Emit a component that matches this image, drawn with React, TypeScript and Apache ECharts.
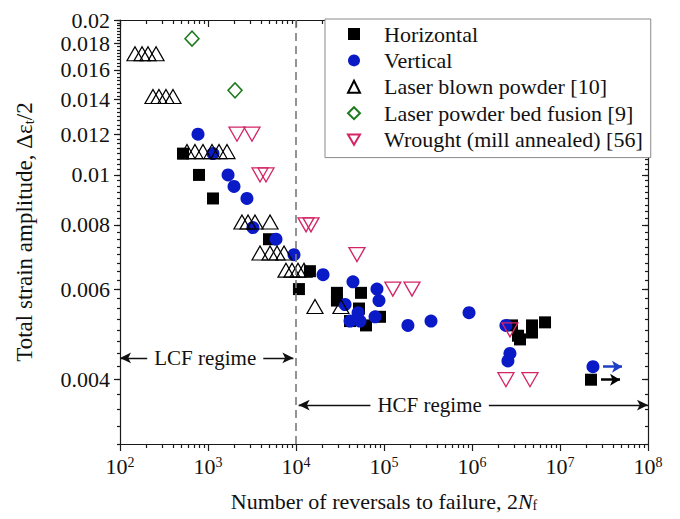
import React, { useEffect, useRef } from 'react';
import * as echarts from 'echarts';

const FONT = 'Liberation Serif, Times New Roman, serif';

// [reversals to failure 2Nf, total strain amplitude]
const horizontal: [number, number][] = [
  [520, 0.011], [790, 0.01], [1140, 0.009], [4930, 0.0075], [10800, 0.006], [14400, 0.0065],
  [29200, 0.0059], [29200, 0.0057], [41100, 0.0052], [52000, 0.0055], [54800, 0.0059],
  [62400, 0.0051], [90100, 0.0053], [2.85e6, 0.0051], [3.33e6, 0.00487], [3.51e6, 0.00479],
  [4.81e6, 0.0051], [4.81e6, 0.00494], [6.76e6, 0.00517],
];
const horizontalRunout: [number, number] = [2.25e7, 0.004];

const vertical: [number, number][] = [
  [770, 0.012], [1140, 0.011], [1690, 0.01], [1975, 0.0095], [2770, 0.009], [3240, 0.0079],
  [5930, 0.0075], [9490, 0.007], [20300, 0.0064], [36100, 0.0056], [41100, 0.0052],
  [44400, 0.0062], [50700, 0.0054], [53400, 0.0052], [79100, 0.0053], [83200, 0.006],
  [87700, 0.0057], [187000, 0.0051], [342000, 0.0052], [925000, 0.0054], [2.43e6, 0.0051],
  [2.7e6, 0.0045], [2.56e6, 0.00435],
];
const verticalRunout: [number, number] = [2.37e7, 0.00424];

const laserBlown: [number, number][] = [
  [148, 0.0172], [178, 0.0172], [208, 0.0172], [257, 0.0172],
  [237, 0.0142], [277, 0.0142], [333, 0.0142], [400, 0.0142],
  [577, 0.0111], [711, 0.0111], [877, 0.0111], [1110, 0.0111], [1334, 0.0111], [1644, 0.0111],
  [2430, 0.0081], [2850, 0.0081], [3420, 0.0081], [5070, 0.0081],
  [3900, 0.00705], [5070, 0.00705], [6090, 0.00705], [7310, 0.00705],
  [7690, 0.00653], [9010, 0.00653], [10540, 0.00653], [12330, 0.00653],
  [16440, 0.00555], [32400, 0.00555],
];

const lpbf: [number, number][] = [[658, 0.0184], [2028, 0.0146]];

const wrought: [number, number][] = [
  [2135, 0.012], [3160, 0.012], [3900, 0.01], [4560, 0.01], [13000, 0.008], [14800, 0.008],
  [49300, 0.007], [126000, 0.006], [208000, 0.006], [2.7e6, 0.005], [2.43e6, 0.004], [4.56e6, 0.004],
];

const seriesNames = [
  'Horizontal',
  'Vertical',
  'Laser blown powder [10]',
  'Laser powder bed fusion [9]',
  'Wrought (mill annealed) [56]',
];

const xDecades = [2, 3, 4, 5, 6, 7, 8];
const yTickLabels = [0.004, 0.006, 0.008, 0.01, 0.012, 0.014, 0.016, 0.018, 0.02];
const yRange = [0.003, 0.02];
const regimeBoundary = 1e4;
const regimeTexts = ['LCF regime', 'HCF regime'];
const regimeArrowStrain = [0.00441, 0.00357];
const regimeLabelReversals = [930, 3.3e5];

const lg = (v: number) => Math.log10(v);
const toLog = (arr: [number, number][]) => arr.map(([n, s]) => [lg(n), lg(s)]);

const xMinorTicks: number[] = [];
for (let d = xDecades[0]; d < xDecades[xDecades.length - 1]; d++) {
  for (let k = 2; k <= 9; k++) xMinorTicks.push(d + Math.log10(k));
}
const yMinorTicks: number[] = [];
for (let k = 12; k <= 80; k++) yMinorTicks.push(Math.log10(k * 0.00025));

const BLACK = '#1a1a1a';
const BLUE = '#0a1ac6';
const GREEN = '#1c7a1c';
const PINK = '#d42466';
const DOWN_TRI = 'path://M0,0 L20,0 L10,17 Z';

const lineStyle = { color: BLACK, width: 1.2 };

function runoutArrow(pt: [number, number], color: string) {
  return {
    silent: true,
    symbol: ['none', 'arrow'],
    symbolSize: [9, 10],
    lineStyle: { color, width: 2.5, type: 'solid' },
    label: { show: false },
    data: [[{ coord: [lg(pt[0]) + 0.114, lg(pt[1])] }, { coord: [lg(pt[0]) + 0.33, lg(pt[1])] }]],
  };
}

export default function App() {
  const ref = useRef<HTMLDivElement>(null);
  useEffect(() => {
    const chart = echarts.init(ref.current!, null, { renderer: 'svg' });
    const xMin = xDecades[0];
    const xMax = xDecades[xDecades.length - 1];
    const yMin = lg(yRange[0]);
    const yMax = lg(yRange[1]);
    const yMajor = yTickLabels.map(lg);
    const baseX = { type: 'value', min: xMin, max: xMax, splitLine: { show: false } };
    const baseY = { type: 'value', min: yMin, max: yMax, splitLine: { show: false } };
    const arrowLine = { type: 'solid', color: '#111', width: 1.3 };

    const option: any = {
      animation: false,
      backgroundColor: '#fff',
      textStyle: { fontFamily: FONT },
      grid: { left: 120, right: 32, top: 20, bottom: 75, containLabel: false },
      legend: {
        data: seriesNames,
        orient: 'vertical',
        left: 325,
        top: 19,
        padding: [4, 8, 7, 22],
        itemWidth: 12,
        itemHeight: 12,
        itemGap: 4.4,
        borderColor: '#8a8a8a',
        borderWidth: 1,
        backgroundColor: '#fff',
        selectedMode: false,
        textStyle: { fontSize: 22, fontFamily: FONT, color: '#111', lineHeight: 20, padding: [0, 0, 0, 19] },
      },
      xAxis: [
        {
          ...baseX,
          position: 'bottom',
          interval: 1,
          axisLine: { show: true, onZero: false, lineStyle },
          axisTick: { show: true, inside: false, length: 7, lineStyle },
          axisLabel: {
            margin: 11,
            fontSize: 22,
            fontFamily: FONT,
            color: '#111',
            formatter: (v: number) => `10{sup|${Math.round(v)}}`,
            rich: { sup: { fontSize: 14, fontFamily: FONT, color: '#111', verticalAlign: 'top', lineHeight: 10 } },
          },
          name: 'Number of reversals to failure, 2{it|N}{sub|f}',
          nameLocation: 'middle',
          nameGap: 46,
          nameTextStyle: {
            fontSize: 22,
            fontFamily: FONT,
            color: '#111',
            lineHeight: 22,
            rich: {
              it: { fontSize: 22, fontFamily: FONT, fontStyle: 'italic', color: '#111', lineHeight: 22 },
              sub: { fontSize: 14, fontFamily: FONT, color: '#111', verticalAlign: 'bottom', lineHeight: 10 },
            },
          },
        },
        {
          ...baseX,
          position: 'bottom',
          axisLine: { show: false },
          axisTick: { show: true, inside: false, length: 4, customValues: xMinorTicks, lineStyle },
          axisLabel: { show: false },
        },
        {
          ...baseX,
          position: 'top',
          interval: 1,
          axisLine: { show: true, onZero: false, lineStyle },
          axisTick: { show: true, inside: true, length: 7, lineStyle },
          axisLabel: { show: false },
        },
        {
          ...baseX,
          position: 'top',
          axisLine: { show: false },
          axisTick: { show: true, inside: true, length: 4, customValues: xMinorTicks, lineStyle },
          axisLabel: { show: false },
        },
      ],
      yAxis: [
        {
          ...baseY,
          position: 'left',
          axisLine: { show: true, onZero: false, lineStyle },
          axisTick: { show: true, inside: false, length: 6, customValues: yMajor, lineStyle },
          axisLabel: {
            customValues: yMajor,
            margin: 10,
            fontSize: 22,
            fontFamily: FONT,
            color: '#111',
            formatter: (v: number) => {
              const t = yTickLabels.find((x) => Math.abs(lg(x) - v) < 1e-6);
              return t === undefined ? '' : String(t);
            },
          },
          name: 'Total strain amplitude, Δε{sub|t}/2',
          nameLocation: 'middle',
          nameGap: 84,
          nameTextStyle: {
            fontSize: 23,
            fontFamily: FONT,
            color: '#111',
            lineHeight: 23,
            rich: {
              sub: { fontSize: 15, fontFamily: FONT, color: '#111', verticalAlign: 'bottom', lineHeight: 10 },
            },
          },
        },
        {
          ...baseY,
          position: 'left',
          axisLine: { show: false },
          axisTick: { show: true, inside: false, length: 3, customValues: yMinorTicks, lineStyle },
          axisLabel: { show: false },
        },
        {
          ...baseY,
          position: 'right',
          axisLine: { show: true, onZero: false, lineStyle },
          axisTick: { show: true, inside: true, length: 6, customValues: yMajor, lineStyle },
          axisLabel: { show: false },
        },
        {
          ...baseY,
          position: 'right',
          axisLine: { show: false },
          axisTick: { show: true, inside: true, length: 3, customValues: yMinorTicks, lineStyle },
          axisLabel: { show: false },
        },
      ],
      series: [
        {
          name: 'regime lines',
          type: 'scatter',
          silent: true,
          z: 1,
          data: [],
          markLine: {
            silent: true,
            symbol: ['none', 'none'],
            symbolSize: [8, 11],
            label: { show: false },
            data: [
              { xAxis: lg(regimeBoundary), lineStyle: { type: [8, 5], color: '#7a7a7a', width: 1.6 } },
              [
                { coord: [xMin, lg(regimeArrowStrain[0])], symbol: 'arrow', lineStyle: arrowLine },
                { coord: [lg(regimeBoundary) - 0.03, lg(regimeArrowStrain[0])], symbol: 'arrow' },
              ],
              [
                { coord: [lg(regimeBoundary) + 0.03, lg(regimeArrowStrain[1])], symbol: 'arrow', lineStyle: arrowLine },
                { coord: [xMax, lg(regimeArrowStrain[1])], symbol: 'arrow' },
              ],
            ],
          },
        },
        {
          name: seriesNames[0],
          type: 'scatter',
          symbol: 'rect',
          symbolSize: 12,
          itemStyle: { color: '#000', opacity: 1 },
          data: toLog([...horizontal, horizontalRunout]),
          markLine: runoutArrow(horizontalRunout, '#000'),
        },
        {
          name: seriesNames[1],
          type: 'scatter',
          symbol: 'circle',
          symbolSize: 13,
          itemStyle: { color: BLUE, opacity: 1 },
          data: toLog([...vertical, verticalRunout]),
          markLine: runoutArrow(verticalRunout, '#1d3fc4'),
        },
        {
          name: seriesNames[2],
          type: 'scatter',
          symbol: 'triangle',
          symbolSize: [16, 14],
          itemStyle: { color: 'rgba(255,255,255,0)', borderColor: '#000', borderWidth: 1.2, opacity: 1 },
          data: toLog(laserBlown),
        },
        {
          name: seriesNames[3],
          type: 'scatter',
          symbol: 'diamond',
          symbolSize: [14, 15],
          itemStyle: { color: 'rgba(255,255,255,0)', borderColor: GREEN, borderWidth: 1.5, opacity: 1 },
          data: toLog(lpbf),
        },
        {
          name: seriesNames[4],
          type: 'scatter',
          symbol: DOWN_TRI,
          symbolSize: [16, 14],
          itemStyle: { color: 'rgba(255,255,255,0)', borderColor: PINK, borderWidth: 1.3, opacity: 1 },
          data: toLog(wrought),
        },
        {
          name: 'regime labels',
          type: 'scatter',
          silent: true,
          z: 10,
          symbolSize: 1,
          itemStyle: { color: 'rgba(0,0,0,0)', opacity: 1 },
          data: regimeTexts.map((t, i) => ({
            value: [lg(regimeLabelReversals[i]), lg(regimeArrowStrain[i])],
            label: { formatter: t },
          })),
          label: {
            show: true,
            position: 'inside',
            backgroundColor: '#fff',
            padding: [2, 7],
            fontSize: 21,
            fontFamily: FONT,
            color: '#111',
            opacity: 1,
          },
        },
      ],
    };
    chart.setOption(option);
    return () => chart.dispose();
  }, []);
  return (
    <div
      ref={ref}
      style={{ position: 'fixed', left: 0, top: 0, width: 680, height: 519, background: '#fff' }}
    />
  );
}
